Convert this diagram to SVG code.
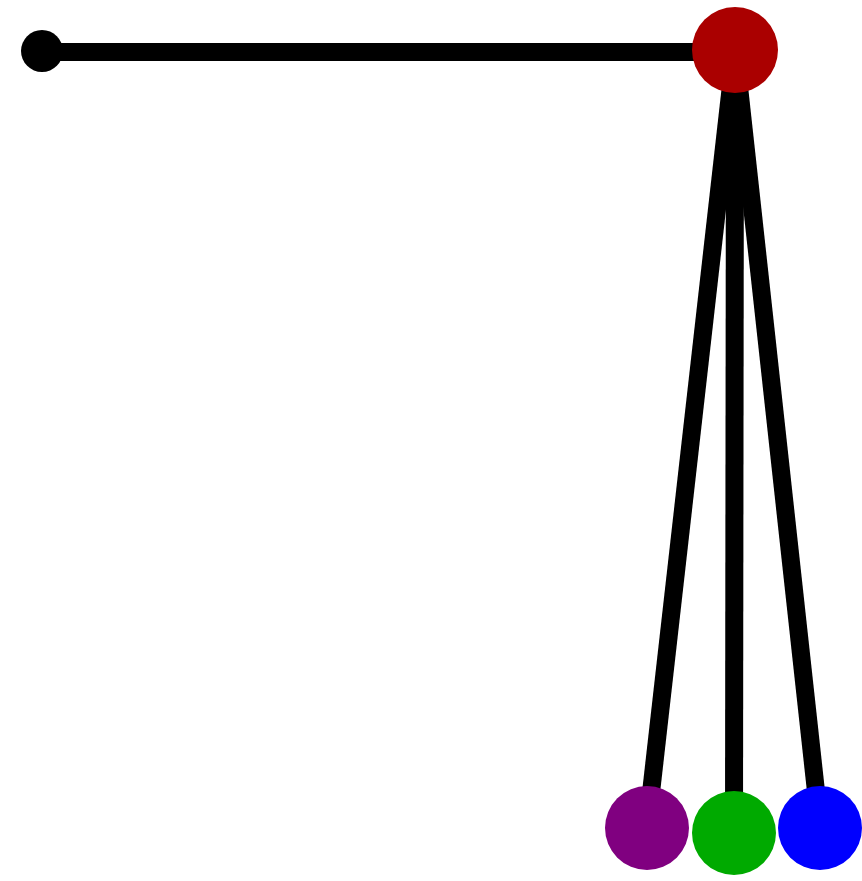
<svg xmlns="http://www.w3.org/2000/svg" width="862" height="881" viewBox="0 0 862 881">
<style>
.edge{stroke:#000;stroke-width:18;fill:none}
</style>
<rect width="862" height="881" fill="#fff"/>
<g id="connectors">
<line class="edge" x1="42" y1="52" x2="735" y2="52"/>
<line class="edge" x1="735" y1="50" x2="647" y2="828"/>
<line class="edge" x1="735" y1="50" x2="734" y2="833"/>
<line class="edge" x1="735" y1="50" x2="820" y2="828"/>
</g>
<g id="n0"><circle cx="42" cy="51" r="21" fill="#000"/></g>
<g id="n1"><circle cx="735" cy="50" r="43" fill="#aa0000"/></g>
<g id="n2"><circle cx="647" cy="828" r="42" fill="#800080"/></g>
<g id="n3"><circle cx="734" cy="833" r="42" fill="#00aa00"/></g>
<g id="n4"><circle cx="820" cy="828" r="42" fill="#0000ff"/></g>
</svg>
